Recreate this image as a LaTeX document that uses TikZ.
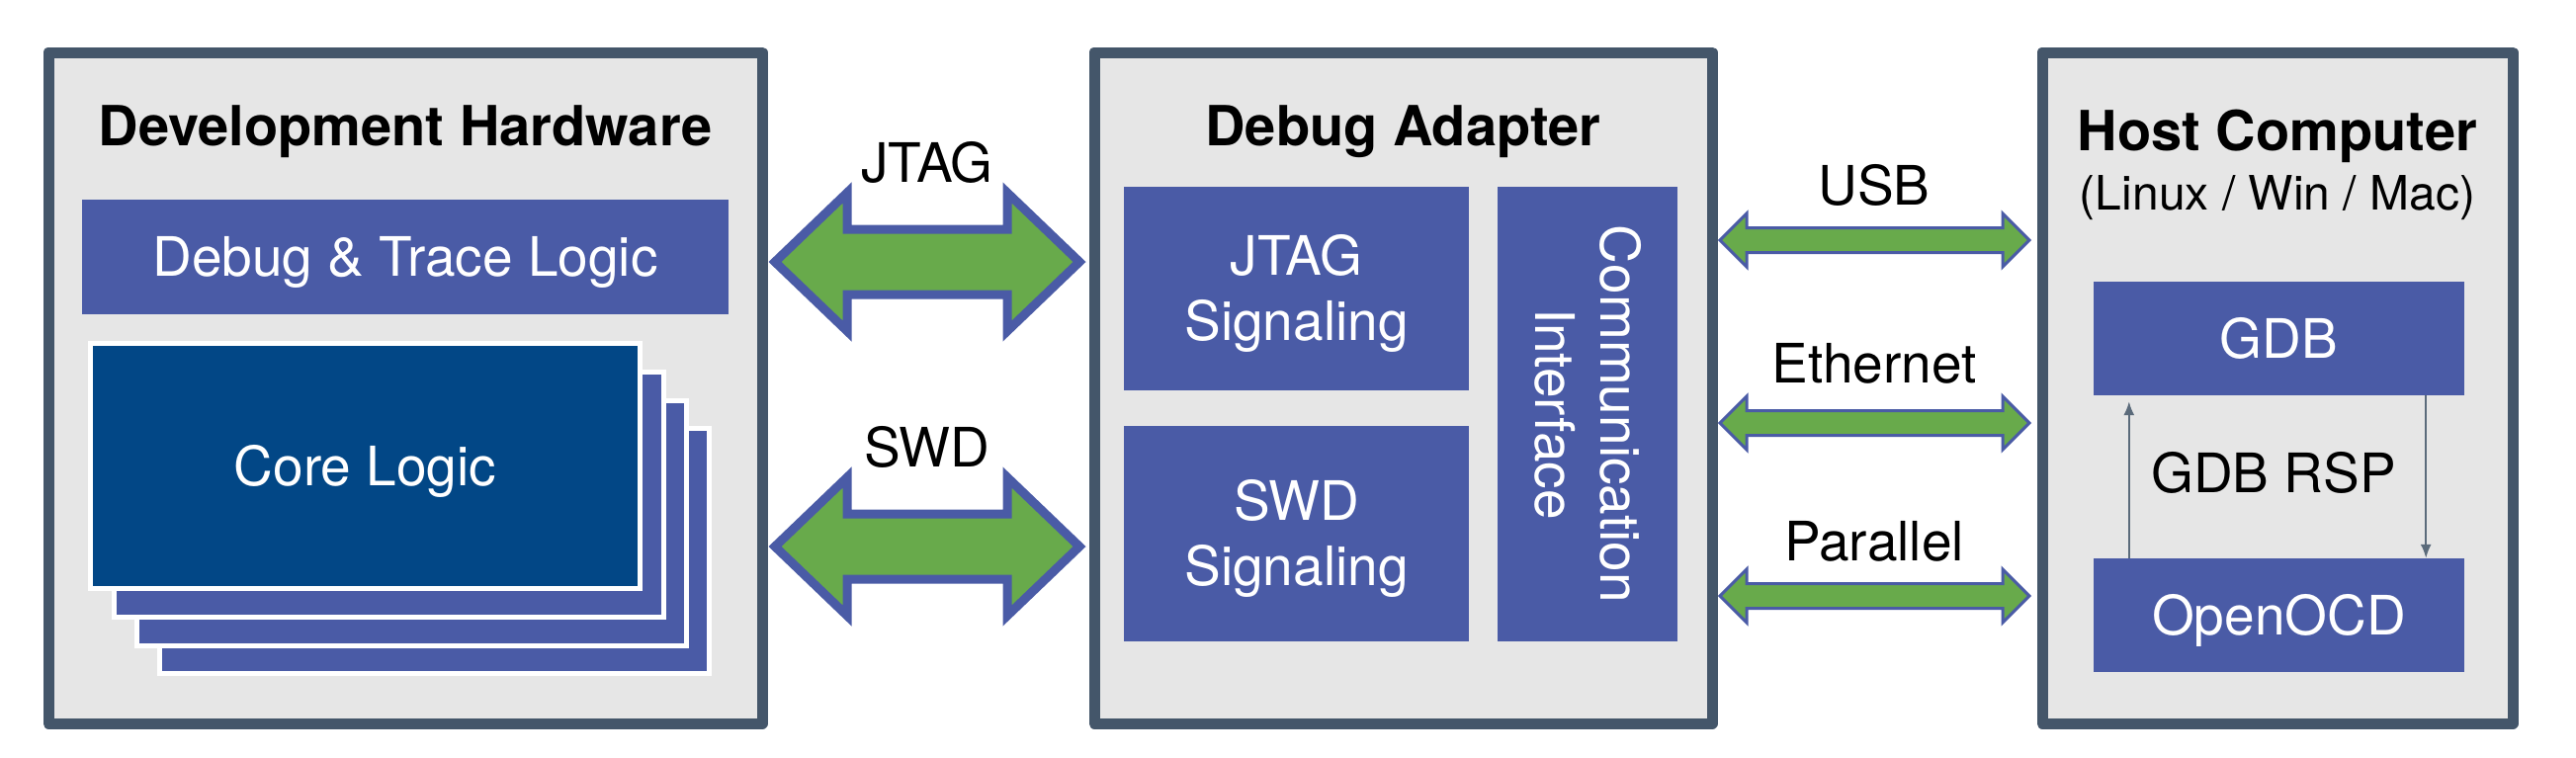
\documentclass[tikz,border=0pt]{standalone}
\usepackage{fontspec}
\setmainfont{TeX Gyre Heros}
\usetikzlibrary{calc,arrows.meta}
\definecolor{frame}{HTML}{44566A}
\definecolor{panel}{HTML}{E6E6E6}
\definecolor{midblue}{HTML}{4A5BA6}
\definecolor{coreblue}{HTML}{024786}
\definecolor{arrgreen}{HTML}{68AA4B}
\definecolor{rspgray}{HTML}{5B6B7B}
\newcommand\twoline[2]{\vbox{\hbox to 0pt{\hss #1\hss}\hbox to 0pt{\hss #2\hss}}}
% fat double arrow: [style]{left tip}{right tip}{head length}{head half height}{shaft half height}
\newcommand\fatarrow[6][]{%
  \draw[#1] (#2) -- ($(#2)+(#4,-#5)$) -- ($(#2)+(#4,-#6)$) -- ($(#3)+(-#4,-#6)$)
    -- ($(#3)+(-#4,-#5)$) -- (#3) -- ($(#3)+(-#4,#5)$) -- ($(#3)+(-#4,#6)$)
    -- ($(#2)+(#4,#6)$) -- ($(#2)+(#4,#5)$) -- cycle;}
\tikzset{
  panelbox/.style={rectangle, draw=frame, fill=panel, line width=11pt, line join=round, inner sep=0pt},
  bluebox/.style={rectangle, fill=midblue, inner sep=0pt, text=white,
    font=\fontsize{55}{66}\selectfont, text height=39.6pt, text depth=0pt},
  twol/.style={text height=105.6pt, text depth=0pt},
  corebox/.style={rectangle, draw=white, line width=5pt, fill=midblue,
    minimum width=556pt, minimum height=248pt, inner sep=0pt},
  titletext/.style={font=\bfseries\fontsize{56}{66}\selectfont, anchor=base, inner sep=0pt},
  lbl/.style={font=\fontsize{55}{66}\selectfont, anchor=base, inner sep=0pt, text=black},
  fatg/.style={fill=arrgreen, draw=midblue, line width=9pt, line join=miter},
  thing/.style={fill=arrgreen, draw=midblue, line width=3pt, line join=miter},
  rsp/.style={draw=rspgray, line width=2pt, -{Latex[length=14pt, width=11pt]}}
}
\begin{document}
\begin{tikzpicture}[x=1pt, y=-1pt]
\useasboundingbox[fill=white] (0,0) rectangle (2606,766);

% panels
\node[panelbox, minimum width=722pt, minimum height=679pt] (dev) at (410,392.5) {};
\node[panelbox, minimum width=625pt, minimum height=679pt] (adapter) at (1419.5,392.5) {};
\node[panelbox, minimum width=476pt, minimum height=679pt] (host) at (2304,392.5) {};

% titles
\node[titletext] (devt) at (410,147) {Development Hardware};
\node[titletext] (adt) at (1419.5,147) {Debug Adapter};
\node[titletext] (hostt) at (2304,152) {Host Computer};
\node[lbl, font=\fontsize{48}{58}\selectfont] (hosts) at (2304,212) {(Linux / Win / Mac)};

% development hardware
\node[bluebox, minimum width=654pt, minimum height=116pt] (dtl) at (410,260) {Debug \& Trace Logic};
\node[corebox] (core3) at (439.5,557.5) {};
\node[corebox] (core2) at (416.5,529.5) {};
\node[corebox] (core1) at (393,500.5) {};
\node[corebox, fill=coreblue, text=white, font=\fontsize{55}{66}\selectfont,
      text height=39.6pt, text depth=0pt] (core) at (369.5,471.5) {Core Logic};

% debug adapter
\node[bluebox, twol, minimum width=349pt, minimum height=206pt] (jtagsig) at (1311.5,292) {\twoline{JTAG}{Signaling}};
\node[bluebox, twol, minimum width=349pt, minimum height=218pt] (swdsig) at (1311.5,540) {\twoline{SWD}{Signaling}};
\node[bluebox, twol, rotate=-90, minimum width=460pt, minimum height=182pt] (comm) at (1606,419) {\twoline{Communication}{Interface}};

% host computer
\node[bluebox, minimum width=375pt, minimum height=115pt] (gdb) at (2305.5,342.5) {GDB};
\node[bluebox, minimum width=375pt, minimum height=115pt] (openocd) at (2305.5,622.5) {OpenOCD};
\node[lbl] (rsplbl) at (2300,498) {GDB RSP};
\draw[rsp] ($(openocd.north west)+(36,0)$) -- ($(gdb.south west)+(36,6)$);
\draw[rsp] ($(gdb.south east)+(-39,0)$) -- ($(openocd.north east)+(-39,0)$);

% connector end points
\coordinate (jl) at (784,265);  \coordinate (jr) at (1092,265);
\coordinate (sl) at (784,553);  \coordinate (sr) at (1092,553);
\coordinate (ul) at (1740,243); \coordinate (ur) at (2053,243);
\coordinate (el) at (1740,428); \coordinate (er) at (2053,428);
\coordinate (pl) at (1740,603); \coordinate (pr) at (2053,603);

% fat arrows dev <-> adapter
\fatarrow[fatg]{jl}{jr}{73}{70}{33}
\fatarrow[fatg]{sl}{sr}{73}{70}{33}
\node[lbl] (jtaglbl) at (938,184) {JTAG};
\node[lbl] (swdlbl) at (938,472) {SWD};

% thin arrows adapter <-> host
\fatarrow[thing]{ul}{ur}{27}{27}{12.5}
\fatarrow[thing]{el}{er}{27}{27}{12.5}
\fatarrow[thing]{pl}{pr}{27}{27}{12.5}
\node[lbl] (usblbl) at (1896,207) {USB};
\node[lbl] (ethlbl) at (1896,387) {Ethernet};
\node[lbl] (parlbl) at (1896,567) {Parallel};
\end{tikzpicture}
\end{document}
